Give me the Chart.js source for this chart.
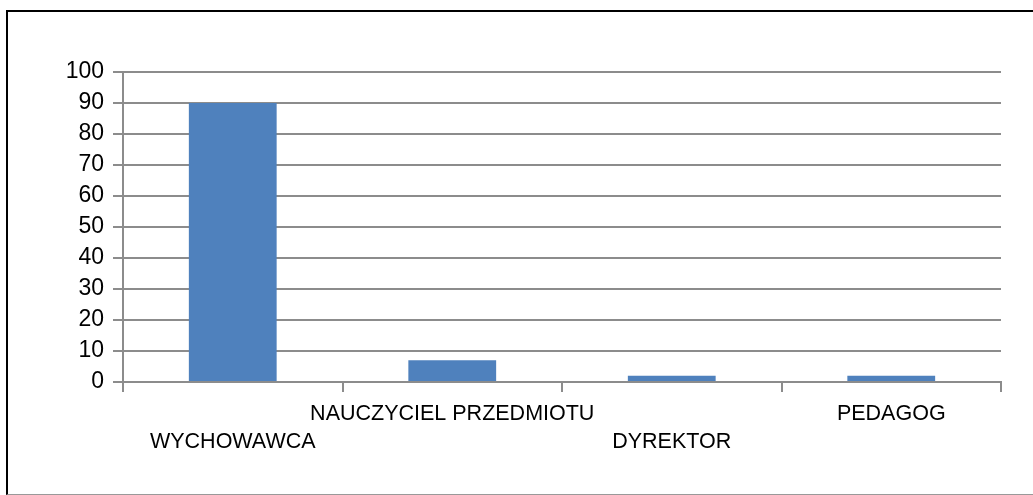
<!DOCTYPE html>
<html>
<head>
<meta charset="utf-8">
<script src="https://cdn.jsdelivr.net/npm/chart.js@4"></script>
<style>
  html, body { margin: 0; padding: 0; background: #fff; }
  #wrap { position: relative; width: 1033px; height: 495px; }
  #frame {
    position: absolute; left: 6px; top: 10px; right: 0; height: 482px;
    border-left: 2.5px solid #000; border-top: 2.5px solid #000;
    border-bottom: 1px solid #999; pointer-events: none;
  }
  canvas { position: absolute; left: 0; top: 0; }
</style>
</head>
<body>
<div id="wrap">
  <canvas id="chart" width="1033" height="495"></canvas>
  <div id="frame"></div>
</div>
<script>
// data
const categories = ['WYCHOWAWCA', 'NAUCZYCIEL PRZEDMIOTU', 'DYREKTOR', 'PEDAGOG'];
const values = [90, 7, 2, 2];
const yTicks = { min: 0, max: 100, step: 10 };

// Excel staggers long category labels: every other one drops a line
const staggered = categories.map((c, i) => i % 2 === 0 ? ['', c] : c);

const gridColor = '#8c8c8c';
const textColor = '#000';
const fontFamily = '"Liberation Sans", Arial, sans-serif';

new Chart(document.getElementById('chart').getContext('2d'), {
  type: 'bar',
  data: {
    labels: staggered,
    datasets: [{
      label: 'Seria 1',
      data: values,
      backgroundColor: '#4f81bd',
      borderWidth: 0,
      barPercentage: 0.4,
      categoryPercentage: 1
    }]
  },
  options: {
    responsive: false,
    animation: false,
    layout: { padding: { top: 72, right: 32, left: 0, bottom: 0 } },
    plugins: {
      legend: { display: false },
      tooltip: { enabled: false }
    },
    scales: {
      x: {
        afterFit: (scale) => { scale.height = 113; },
        grid: {
          offset: true,
          drawOnChartArea: false,
          drawTicks: true,
          tickLength: 10,
          color: gridColor,
          lineWidth: 2
        },
        border: { display: true, color: gridColor, width: 2 },
        ticks: {
          color: textColor,
          maxRotation: 0,
          autoSkip: false,
          padding: 8,
          font: { family: fontFamily, size: 21.5, lineHeight: 1.3 }
        }
      },
      y: {
        min: yTicks.min,
        max: yTicks.max,
        afterFit: (scale) => { scale.width = 123; },
        grid: {
          color: gridColor,
          lineWidth: 2,
          drawTicks: true,
          tickLength: 10
        },
        border: { display: true, color: gridColor, width: 2 },
        ticks: {
          stepSize: yTicks.step,
          color: textColor,
          padding: 9,
          font: { family: fontFamily, size: 23 }
        }
      }
    }
  }
});
</script>
</body>
</html>
